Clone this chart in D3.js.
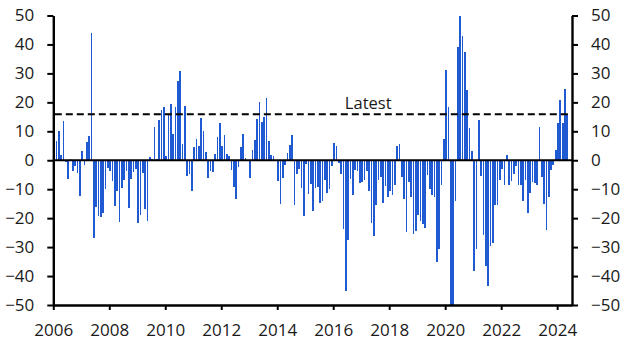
<!DOCTYPE html>
<html><head><meta charset="utf-8">
<script src="https://cdn.jsdelivr.net/npm/d3@7"></script>
<style>
body{margin:0;background:#fff}
text{font-family:"Open Sans",sans-serif;fill:#1a1a1a}
</style>
</head><body>
<svg id="chart" width="629" height="355"></svg>
<script>
// Monthly values, starting January 2006
const startYear = 2006;
const values = [
  8.9, 6.6, 10, 1.7, 13.5, -0.5, -6.6, 0.3, -3.8, -2, -4.4, -12.3,
  3.1, -1.7, 6.2, 8.3, 44, -26.8, -16.1, -19.2, -19.6, -18.2, -9.9, -2.6,
  -3.7, -7.1, -15.8, -10.6, -21.3, -9.6, -6.8, -3.7, -16.5, -6.4, -4, -3,
  -21.6, -18.9, -4.4, -17, -21, 1, 0.3, 11.4, 0.4, 13.8, 17.3, 18.3,
  1.4, 15.9, 19.3, 9, 18.3, 27.3, 31, 5.5, 18.6, -5.4, -4.7, -10.6,
  4.5, 7.2, 4.8, 14.5, 10, 2.8, -6.1, -3.8, -4.1, 2.1, 7.9, 12.8,
  4.8, 8.6, 2.1, 1.4, -3.5, -9.2, -13.3, -2.3, 4.5, 9, 0.7, 0.2,
  -6.1, 3.5, 6.9, 14.2, 20, 13.1, 14.8, 21.4, 6.6, 1.7, 1.4, 0.2,
  -7.1, -15.1, -6.1, -1.6, 2.4, 5.2, 8.6, -15.4, -4.7, -3, -9.6, -19.2,
  -1.3, -11.6, -8.2, -17.5, -9.6, -9.2, -14.7, -14, -6.8, -11.3, -9.9, -2,
  5.9, 4.8, -1, -4.7, -23.7, -45.1, -27.5, -6.4, -12, -3.3, -3.7, -7.8,
  -7.5, -6.8, -3.7, -10.6, -21.6, -26.1, -15.4, -6.8, -5.8, -14.7, -8.9, -12.7,
  -10.6, -12, -8.5, 4.8, 5.5, -5.8, -13.3, -24.7, -7.5, -12.7, -25.4, -24.4,
  -18.9, -21, -22, -23.4, -5, -9.9, -12, -12.7, -35.1, -30.6, -8.5, 7.2,
  31.1, 18.3, -55, -55, -14, 39, 50, 42.8, 37.3, 24.2, 11, 3.1,
  -38.2, -30.6, 13.8, -5.4, -25.8, -36.5, -43.4, -29.6, -28.5, -15.4, -15.4, -6.8,
  -3, -8.5, 1.7, -8.5, -7.1, -4.7, -2, -8.5, -8.5, -14, -6.8, -18.2,
  -11.3, -7.5, -7.8, -8.5, 11.4, -5.8, -15.1, -24, -12.7, -3.3, -1.6, 3.5,
  12.8, 20.7, 12.8, 24.5, 15.9
];
const yTicks = [-50, -40, -30, -20, -10, 0, 10, 20, 30, 40, 50];
const xTickYears = [2006, 2008, 2010, 2012, 2014, 2016, 2018, 2020, 2022, 2024];
const latestLabel = "Latest";

const svg = d3.select("#chart");
const pL = 53.3, pR = 572, pT = 15.5, pB = 305;
const x = d3.scaleLinear().domain([2006, 2024.53]).range([pL, pR]);
const y = d3.scaleLinear().domain([-50, 50]).range([pB, pT]);

const data = values.map((v, i) => ({t: startYear + i / 12, v}));
const barW = 1.7;

svg.append("clipPath").attr("id", "clip")
  .append("rect").attr("x", pL).attr("y", pT).attr("width", pR - pL).attr("height", pB - pT);

svg.append("g").attr("clip-path", "url(#clip)")
  .selectAll("rect").data(data).join("rect")
  .attr("x", d => x(d.t))
  .attr("width", barW)
  .attr("y", d => y(Math.max(0, d.v)))
  .attr("height", d => Math.abs(y(d.v) - y(0)))
  .attr("fill", "#1f5ad3")
  .attr("shape-rendering", "crispEdges");

// zero line
svg.append("line")
  .attr("x1", pL).attr("x2", pR)
  .attr("y1", y(0)).attr("y2", y(0))
  .attr("stroke", "#000").attr("stroke-width", 2.2);

// latest dashed line
const latest = values[values.length - 1];
svg.append("line")
  .attr("x1", x(startYear) + 1.5).attr("x2", x(data[data.length - 1].t) + barW)
  .attr("y1", y(latest)).attr("y2", y(latest))
  .attr("stroke", "#000").attr("stroke-width", 2)
  .attr("stroke-dasharray", "7,4");
svg.append("text")
  .attr("x", x(2017.25)).attr("y", y(latest) - 5.5)
  .attr("text-anchor", "middle")
  .attr("font-size", 16.5)
  .text(latestLabel);

function styleAxis(g) {
  g.selectAll(".domain").attr("stroke", "#000").attr("stroke-width", 2.4);
  g.selectAll(".tick line").attr("stroke", "#000").attr("stroke-width", 2);
  g.selectAll("text").attr("font-size", 17).attr("fill", "#1a1a1a")
    .style("font-family", '"Open Sans", sans-serif');
}

svg.append("g").attr("transform", `translate(${pL},0)`)
  .call(d3.axisLeft(y).tickValues(yTicks).tickSize(6).tickSizeOuter(0).tickPadding(13))
  .call(styleAxis);

svg.append("g").attr("transform", `translate(${pR},0)`)
  .call(d3.axisRight(y).tickValues(yTicks).tickSize(6).tickSizeOuter(0).tickPadding(13))
  .call(styleAxis);

svg.append("g").attr("transform", `translate(0,${pB})`)
  .call(d3.axisBottom(x).tickValues(xTickYears).tickFormat(d3.format("d")).tickSize(5).tickSizeOuter(0).tickPadding(14))
  .call(styleAxis);
</script>
</body></html>
